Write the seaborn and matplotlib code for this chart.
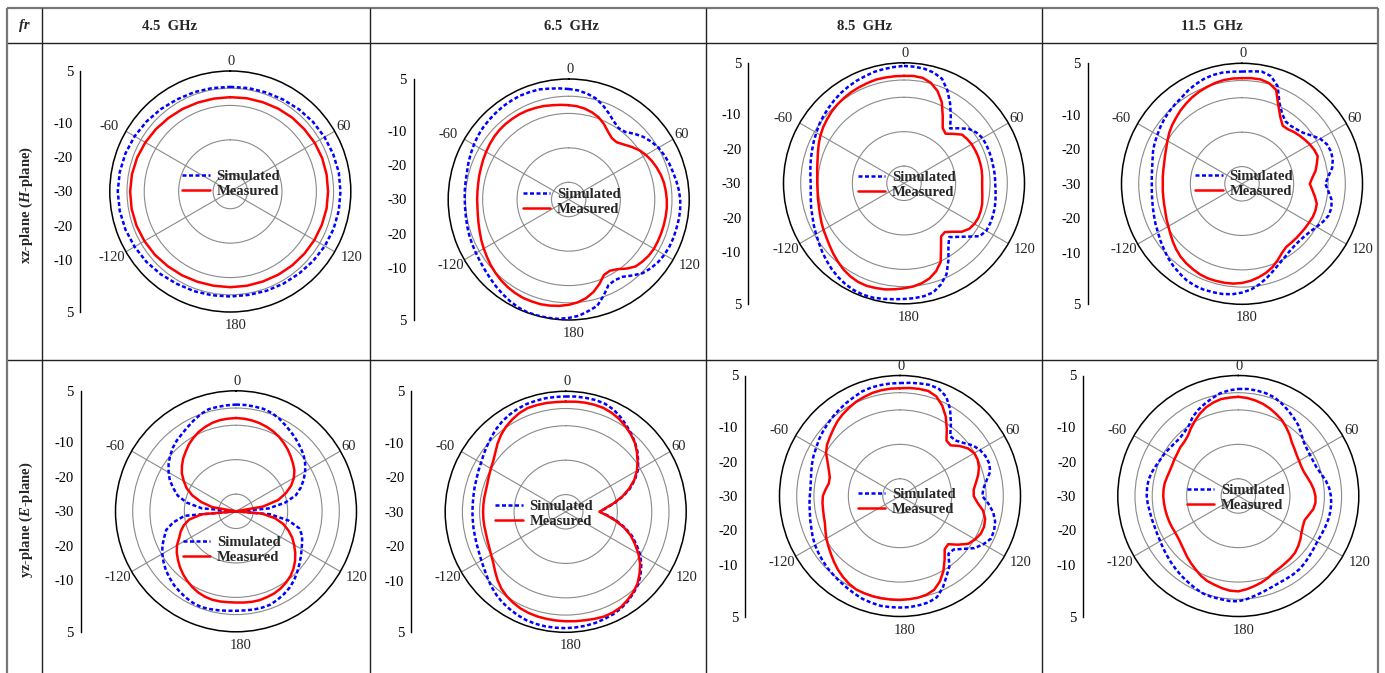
import numpy as np
import pandas as pd
import matplotlib
matplotlib.use("Agg")
import matplotlib.pyplot as plt
import seaborn as sns

# ---------------------------------------------------------------- data
# angles are measured clockwise from broadside (0 at top)
ANGLES_COARSE = list(range(0, 360, 10))
ANGLES_FINE = list(range(0, 360, 5))
FREQS = ["4.5  GHz", "6.5  GHz", "8.5  GHz", "11.5  GHz"]
PLANES = [r"xz-plane ($\mathit{H}$-plane)", r"yz-plane ($\mathit{E}$-plane)"]
SERIES = ["Simulated", "Measured"]

THETA_TICKS = list(range(0, 360, 30))
THETA_LABELS = ["0", "60", "120", "180", "-120", "-60"]
SPOKES = [60, 120, 240, 300]
R_GRID = [-25, -15, -5, 0]
R_MIN, R_MAX = -30, 5
SCALE_POS = [35, 20, 10, 0, -10, -20, -35]
SCALE_LABELS = ["5", "-10", "-20", "-30", "-20", "-10", "5"]

# normalised gain (dB), xz-plane
SIM_XZ_45 = [0.4, 0.5, 0.6, 0.8, 1.1, 1.4, 1.6, 1.8, 2.0, 2.0, 2.0, 1.9, 1.7, 1.4, 1.1, 0.9, 0.7, 0.5,
             0.5, 0.6, 0.8, 1.0, 1.4, 1.8, 2.1, 2.4, 2.6, 2.7, 2.6, 2.4, 2.1, 1.7, 1.3, 0.9, 0.7, 0.5]
MEAS_XZ_45 = [-2.6, -2.5, -2.4, -2.2, -2.0, -1.9, -1.7, -1.6, -1.6, -1.6, -1.6, -1.7, -1.8, -1.9, -2.0, -2.1, -2.2, -2.2,
              -2.2, -2.2, -2.1, -1.9, -1.7, -1.4, -1.2, -1.0, -0.9, -0.9, -1.0, -1.2, -1.5, -1.8, -2.1, -2.3, -2.5, -2.6]

SIM_XZ_65 = [2.1, 1.8, 1.2, 0.4, -0.9, -2.4, -3.8, -4.7, -4.4, -3.0, -1.7, -0.7,
             0.1, 0.6, 1.0, 1.3, 1.7, 2.1, 2.4, 2.5, 2.5, 2.4, 2.4, 2.3,
             2.1, 1.7, 1.1, 0.3, -1.2, -2.6, -3.0, -2.6, -0.3, 2.0, 2.9, 3.9,
             4.4, 4.8, 4.9, 4.9, 4.9, 4.6, 4.1, 3.5, 2.9, 2.3, 1.8, 1.4,
             1.1, 0.9, 0.7, 0.5, 0.3, 0.2, 0.2, 0.3, 0.4, 0.6, 1.0, 1.4,
             1.8, 2.2, 2.5, 2.7, 2.9, 3.1, 3.2, 3.3, 3.2, 3.1, 2.7, 2.4]
MEAS_XZ_65 = [-2.6, -2.8, -3.2, -3.8, -4.6, -5.8, -7.2, -8.2, -8.3, -7.4, -6.2, -5.0,
              -4.1, -3.4, -2.8, -2.3, -1.9, -1.7, -1.5, -1.4, -1.4, -1.4, -1.4, -1.4,
              -1.4, -1.6, -2.0, -2.5, -3.8, -5.3, -6.1, -5.8, -3.9, -2.2, -0.9, 0.0,
              0.6, 1.0, 1.3, 1.5, 1.5, 1.5, 1.3, 1.0, 0.6, 0.1, -0.4, -1.0,
              -1.5, -2.0, -2.5, -2.9, -3.2, -3.4, -3.4, -3.4, -3.3, -3.1, -2.9, -2.6,
              -2.3, -2.0, -1.7, -1.5, -1.4, -1.4, -1.4, -1.5, -1.7, -1.9, -2.2, -2.4]

SIM_XZ_85 = [4.1, 4.0, 3.8, 3.3, 2.3, -0.2, -3.2, -6.3, -9.2, -7.4, -5.4, -4.3,
             -3.7, -3.6, -3.6, -3.6, -3.6, -3.5, -3.5, -3.3, -3.0, -2.7, -2.5, -2.4,
             -2.4, -3.2, -5.9, -8.0, -9.6, -7.5, -4.2, -0.8, 1.3, 2.8, 3.3, 3.5,
             3.6, 3.8, 4.1, 4.4, 4.5, 4.3, 3.9, 3.3, 2.6, 1.8, 1.0, 0.2,
             -0.5, -1.1, -1.7, -2.1, -2.5, -2.8, -2.9, -2.7, -2.4, -2.0, -1.6, -1.1,
             -0.6, 0.0, 0.5, 1.0, 1.5, 2.0, 2.4, 2.8, 3.1, 3.5, 3.7, 3.9]
MEAS_XZ_85 = [1.2, 1.3, 1.1, 0.2, -1.5, -4.0, -7.5, -10.4, -11.2, -9.7, -8.0, -7.6,
              -7.3, -7.2, -7.1, -7.1, -7.1, -7.2, -7.3, -7.2, -6.9, -6.5, -6.3, -6.2,
              -6.4, -6.9, -8.1, -10.1, -11.5, -11.2, -8.5, -4.8, -2.8, -1.4, -0.5, 0.1,
              0.5, 0.9, 1.3, 1.5, 1.7, 1.6, 1.2, 0.6, -0.2, -1.0, -1.8, -2.5,
              -3.0, -3.5, -4.0, -4.4, -4.6, -4.8, -4.8, -4.7, -4.4, -4.0, -3.4, -2.7,
              -2.0, -1.4, -0.9, -0.4, 0.0, 0.3, 0.6, 0.8, 1.0, 1.2, 1.2, 1.2]

SIM_XZ_115 = [2.6, 2.8, 3.1, 2.4, 0.2, -4.2, -6.6, -7.9, -8.0, -7.6, -6.9, -5.5,
              -3.8, -2.8, -2.5, -2.7, -3.4, -4.8, -5.8, -4.8, -3.6, -3.1, -3.2, -4.0,
              -5.0, -5.8, -6.3, -6.5, -6.4, -6.0, -5.3, -4.4, -3.2, -1.8, -0.4, 0.8,
              1.6, 2.2, 2.5, 2.6, 2.7, 2.6, 2.3, 1.7, 1.1, 0.4, -0.4, -1.1,
              -1.8, -2.3, -2.8, -3.2, -3.5, -3.7, -3.8, -3.7, -3.5, -3.1, -2.5, -2.0,
              -1.6, -1.1, -0.6, -0.2, 0.2, 0.6, 1.3, 1.9, 2.4, 2.7, 2.8, 2.7]
MEAS_XZ_115 = [0.7, 0.8, 0.8, 0.3, -1.0, -5.0, -7.7, -9.4, -9.3, -8.7, -8.2, -7.7,
               -7.2, -6.8, -6.6, -7.5, -8.3, -9.5, -10.3, -9.5, -8.5, -7.5, -7.3, -7.3,
               -7.5, -7.6, -7.7, -7.7, -7.7, -7.6, -6.8, -5.5, -4.2, -3.2, -2.4, -1.7,
               -1.2, -0.9, -0.8, -0.8, -0.8, -1.0, -1.4, -1.8, -2.3, -3.0, -3.8, -4.6,
               -5.3, -5.8, -6.3, -6.6, -6.8, -6.9, -7.0, -6.9, -6.8, -6.6, -6.2, -5.7,
               -5.0, -4.2, -3.5, -2.9, -2.2, -1.6, -1.0, -0.5, -0.1, 0.3, 0.6, 0.7]

# normalised gain (dB), yz-plane; -30 marks the pattern nulls at the floor of the scale
SIM_YZ_45 = [1.0, 1.0, 0.9, 0.8, 0.4, -0.3, -1.2, -2.0, -2.8, -3.6, -4.4, -5.5,
             -6.8, -8.3, -10.0, -12.0, -15.5, -20.5, -30.0, -20.0, -14.5, -11.0, -9.6, -8.8,
             -8.0, -7.0, -6.0, -4.9, -3.8, -2.9, -2.2, -1.6, -1.1, -1.0, -1.0, -1.1,
             -1.1, -1.0, -0.8, -0.6, -0.4, -0.6, -1.0, -1.5, -2.0, -2.7, -3.4, -4.3,
             -5.3, -6.4, -7.8, -9.0, -11.5, -15.0, -30.0, -20.0, -15.5, -12.5, -10.7, -8.8,
             -7.4, -6.1, -5.0, -4.0, -3.2, -2.6, -1.8, -0.9, 0.0, 0.7, 0.8, 0.9]
MEAS_YZ_45 = [-2.9, -3.0, -3.2, -3.5, -3.9, -4.4, -5.0, -5.8, -6.6, -7.5, -8.4, -9.3,
              -10.6, -12.3, -14.6, -17.3, -22.0, -30.0, -30.0, -22.5, -18.5, -15.8, -13.8, -12.0,
              -10.5, -9.0, -7.6, -6.4, -5.4, -4.7, -4.1, -3.7, -3.5, -3.3, -3.3, -3.4,
              -3.5, -3.5, -3.4, -3.4, -3.6, -4.0, -4.6, -5.3, -6.1, -7.0, -8.0, -9.0,
              -10.2, -11.8, -12.9, -14.3, -16.2, -20.0, -30.0, -30.0, -23.0, -19.5, -16.5, -14.2,
              -12.5, -10.8, -9.5, -8.3, -7.3, -6.2, -5.3, -4.5, -3.9, -3.4, -3.1, -3.0]

SIM_YZ_65 = [3.5, 3.6, 3.6, 3.6, 3.4, 2.8, 1.8, 0.7, -0.4, -1.5, -2.8, -4.3,
             -5.8, -7.8, -10.1, -12.8, -15.7, -18.3, -20.0, -17.8, -15.0, -12.2, -9.5, -7.3,
             -5.0, -3.2, -1.6, -0.2, 0.7, 1.6, 2.3, 2.8, 3.1, 3.4, 3.6, 3.7,
             3.8, 3.8, 3.8, 3.7, 3.5, 3.1, 2.6, 2.1, 1.4, 0.6, -0.3, -1.1,
             -1.7, -2.2, -2.5, -2.7, -2.8, -2.9, -2.9, -2.9, -2.8, -2.6, -2.4, -2.0,
             -1.6, -0.9, -0.2, 0.6, 1.4, 2.1, 2.6, 3.0, 3.3, 3.4, 3.5, 3.5]
MEAS_YZ_65 = [2.0, 2.1, 2.2, 2.2, 2.1, 1.7, 1.1, 0.3, -0.6, -1.6, -3.0, -4.5,
              -6.1, -8.0, -10.4, -13.0, -15.9, -18.5, -20.2, -18.0, -15.3, -12.5, -9.9, -7.8,
              -5.6, -3.6, -2.0, -0.5, 0.5, 1.3, 2.0, 2.3, 2.4, 2.2, 2.0, 1.9,
              1.8, 1.7, 1.6, 1.5, 1.3, 1.0, 0.5, -0.1, -0.9, -2.0, -3.2, -4.3,
              -5.0, -5.5, -5.8, -6.0, -6.0, -6.0, -6.0, -6.0, -6.0, -6.0, -5.8, -5.4,
              -4.9, -4.3, -3.3, -2.0, -0.8, 0.2, 1.0, 1.7, 2.1, 2.1, 2.1, 2.0]

SIM_YZ_85 = [2.8, 3.0, 3.2, 3.4, 3.1, 1.8, -0.9, -4.2, -7.3, -7.2, -6.0, -4.3,
             -3.2, -2.6, -2.4, -2.9, -4.5, -5.7, -6.1, -4.2, -2.5, -1.4, -0.9, -0.8,
             -2.0, -3.6, -6.1, -8.0, -8.1, -5.0, -3.0, -0.6, 1.3, 2.0, 2.2, 2.4,
             2.4, 2.4, 2.4, 2.1, 1.8, 1.3, 0.8, 0.4, 0.0, -0.3, -0.7, -1.1,
             -1.5, -2.0, -2.6, -3.0, -3.4, -3.6, -3.8, -3.9, -3.7, -3.3, -2.8, -2.3,
             -1.9, -1.3, -0.8, -0.3, 0.2, 0.7, 1.2, 1.7, 2.3, 2.6, 2.7, 2.8]
MEAS_YZ_85 = [1.3, 1.5, 1.6, 1.6, 0.8, -1.0, -3.4, -6.3, -9.0, -9.2, -7.4, -5.9,
              -5.1, -5.1, -5.6, -6.5, -7.6, -8.5, -8.6, -7.4, -5.5, -4.4, -4.0, -4.1,
              -4.8, -5.8, -8.0, -10.2, -9.8, -7.4, -4.8, -2.6, -1.0, -0.3, 0.0, 0.1,
              0.2, 0.2, 0.2, 0.2, 0.1, 0.0, -0.5, -1.2, -2.0, -2.9, -3.8, -4.6,
              -5.3, -6.1, -6.8, -7.1, -7.3, -7.4, -7.6, -8.3, -9.0, -8.9, -8.0, -6.8,
              -5.2, -4.1, -3.4, -2.6, -1.7, -1.0, -0.4, 0.2, 0.6, 1.0, 1.2, 1.3]

SIM_YZ_115 = [1.1, 1.2, 1.1, 0.9, 0.5, -0.3, -1.2, -2.1, -3.0, -4.2, -5.3, -5.8,
              -6.0, -6.0, -5.8, -5.1, -4.2, -3.5, -3.1, -2.9, -2.9, -3.0, -3.2, -3.4,
              -3.5, -3.3, -3.0, -2.6, -2.3, -2.2, -2.2, -2.1, -1.8, -1.3, -0.7, 0.0,
              0.6, 0.6, 0.4, 0.3, 0.1, -0.4, -1.0, -1.5, -2.0, -2.5, -3.0, -3.4,
              -3.8, -4.0, -4.1, -4.0, -3.9, -3.6, -3.4, -3.4, -3.5, -3.9, -4.5, -5.0,
              -5.3, -5.7, -6.0, -6.1, -5.7, -5.0, -3.5, -2.4, -1.5, -0.6, 0.3, 0.8]
MEAS_YZ_115 = [-1.2, -1.4, -1.8, -2.3, -3.0, -3.8, -4.6, -5.7, -6.8, -8.0, -8.7, -9.3,
               -9.6, -9.8, -9.7, -9.2, -8.6, -8.0, -7.6, -7.5, -7.9, -8.8, -9.5, -9.3,
               -8.8, -8.0, -7.3, -6.7, -6.4, -6.2, -5.9, -5.5, -4.7, -4.0, -3.4, -2.8,
               -2.3, -2.4, -2.8, -3.3, -3.7, -4.4, -5.3, -6.1, -6.9, -7.7, -8.3, -8.7,
               -8.8, -8.7, -8.6, -8.5, -8.4, -8.3, -8.2, -8.2, -8.3, -8.6, -8.8, -8.8,
               -8.6, -8.4, -8.0, -7.8, -7.2, -6.0, -4.8, -3.6, -2.6, -1.9, -1.4, -1.3]

PATTERNS = [
    [(ANGLES_COARSE, SIM_XZ_45, MEAS_XZ_45), (ANGLES_FINE, SIM_XZ_65, MEAS_XZ_65),
     (ANGLES_FINE, SIM_XZ_85, MEAS_XZ_85), (ANGLES_FINE, SIM_XZ_115, MEAS_XZ_115)],
    [(ANGLES_FINE, SIM_YZ_45, MEAS_YZ_45), (ANGLES_FINE, SIM_YZ_65, MEAS_YZ_65),
     (ANGLES_FINE, SIM_YZ_85, MEAS_YZ_85), (ANGLES_FINE, SIM_YZ_115, MEAS_YZ_115)],
]

# ---------------------------------------------------------------- layout (pixels)
W, H = 1385, 673
RADIUS = 120.5
CENTERS = [[(230.3, 191.5), (568.7, 199.5), (904.0, 183.3), (1242.0, 183.8)],
           [(236.0, 511.3), (565.7, 511.8), (900.0, 496.0), (1238.3, 496.0)]]
SCALE_X = [[80.0, 413.7, 748.3, 1087.7], [80.7, 411.3, 745.0, 1083.3]]
LEGEND_AT = [[(182.0, 184.0), (522.7, 201.7), (857.7, 184.7), (1195.0, 184.2)],
             [(182.7, 550.0), (495.0, 513.7), (857.7, 501.9), (1186.7, 498.0)]]
# angle-label centres relative to the pattern centre (px, y up)
THETA_LABEL_OFFSETS = [(1, 130), (113, 65), (121, -66), (5, -134), (-118, -66), (-121, 65)]
HEADER_X = [170, 572, 865, 1212]
COL_LINES = [7, 42, 370, 706, 1042, 1378]
ROW_LINES = [8, 43, 360]

PALETTE = {"Simulated": "#0000ff", "Measured": "#ff0000"}
DASHES = {"Simulated": (1.6, 1.0), "Measured": ""}
FS = 10.5

sns.set_style("white")
plt.rcParams["font.family"] = ["Liberation Serif", "DejaVu Serif"]
plt.rcParams["mathtext.fontset"] = "custom"
plt.rcParams["mathtext.it"] = "Liberation Serif:italic:bold"
plt.rcParams["mathtext.rm"] = "Liberation Serif:bold"
plt.rcParams["mathtext.bf"] = "Liberation Serif:bold"

fig = plt.figure(figsize=(W / 100, H / 100), dpi=100)

# table frame and headings
tab = fig.add_axes([0, 0, 1, 1], zorder=-5)
tab.set_xlim(0, W)
tab.set_ylim(H, 0)
tab.axis("off")
for y in ROW_LINES:
    top = y == ROW_LINES[0]
    tab.plot([COL_LINES[0], COL_LINES[-1]], [y, y], color="#777777" if top else "#222222",
             lw=1.6 if top else 1.0, solid_capstyle="butt")
for i, x in enumerate(COL_LINES):
    outer = i in (0, len(COL_LINES) - 1)
    tab.plot([x, x], [ROW_LINES[0], H], color="#777777" if outer else "#222222",
             lw=1.6 if outer else 1.0, solid_capstyle="butt")
tab.text(24.5, 26, "fr", fontsize=FS, fontweight="bold", fontstyle="italic", ha="center", va="center")
for x, label in zip(HEADER_X, FREQS):
    tab.text(x, 26, label, fontsize=FS, fontweight="bold", ha="center", va="center")
for y, label in zip([205, 520], PLANES):
    tab.text(26, y, label, fontsize=FS, fontweight="bold", rotation=90, ha="center", va="center")

for r, row in enumerate(PATTERNS):
    for c, (angles, sim, meas) in enumerate(row):
        assert len(sim) == len(angles) and len(meas) == len(angles)
        cx, cy = CENTERS[r][c]
        ax = fig.add_axes([(cx - RADIUS) / W, (H - cy - RADIUS) / H, 2 * RADIUS / W, 2 * RADIUS / H],
                          projection="polar")
        ax.set_theta_zero_location("N")
        ax.set_theta_direction(-1)

        theta_closed = np.deg2rad(list(angles) + [360])
        n = len(theta_closed)
        df = pd.DataFrame({
            "theta": np.concatenate([theta_closed, theta_closed]),
            "gain": list(sim) + [sim[0]] + list(meas) + [meas[0]],
            "series": [SERIES[0]] * n + [SERIES[1]] * n,
        })
        sns.lineplot(data=df, x="theta", y="gain", hue="series", style="series",
                     hue_order=SERIES, style_order=SERIES, palette=PALETTE, dashes=DASHES,
                     sort=False, estimator=None, linewidth=1.8, ax=ax, zorder=3)
        ax.set_xlabel("")
        ax.set_ylabel("")
        ax.set_rlim(R_MIN, R_MAX)
        ax.set_yticks(R_GRID)
        ax.set_yticklabels([])
        ax.yaxis.grid(True, color="#8a8a8a", lw=0.8)
        ax.xaxis.grid(False)
        ax.set_xticks(np.deg2rad(THETA_TICKS))
        ax.set_xticklabels([])
        ax.tick_params(axis="x", direction="in", length=4, width=0.8, colors="black")
        for label, (dx, dy) in zip(THETA_LABELS, THETA_LABEL_OFFSETS):
            ax.annotate(label, xy=(0, R_MIN), xycoords="data", xytext=(dx, dy),
                        textcoords="offset pixels", ha="center", va="center",
                        fontsize=FS, annotation_clip=False)
        for a in SPOKES:
            ax.axvline(np.deg2rad(a), color="#8a8a8a", lw=0.8, zorder=1)
        ax.spines["polar"].set_color("black")
        ax.spines["polar"].set_linewidth(1.1)

        lx, ly = LEGEND_AT[r][c]
        sns.move_legend(ax, "center left", bbox_to_anchor=(lx / W, 1 - ly / H),
                        bbox_transform=fig.transFigure, frameon=False, title=None,
                        prop={"weight": "bold", "size": FS}, handlelength=1.9,
                        handletextpad=0.45, labelspacing=0.1, borderpad=0, borderaxespad=0)

        # linear dB scale beside each pattern
        sx = SCALE_X[r][c]
        sa = fig.add_axes([sx / W, (H - cy - RADIUS) / H, 0.0005, 2 * RADIUS / H])
        sa.set_ylim(-35, 35)
        sa.set_yticks(SCALE_POS)
        sa.set_yticklabels(SCALE_LABELS)
        sa.set_xticks([])
        for s in ["top", "right", "bottom"]:
            sa.spines[s].set_visible(False)
        sa.spines["left"].set_color("black")
        sa.spines["left"].set_linewidth(1.0)
        sa.tick_params(axis="y", direction="out", length=4, width=1.0, pad=1, labelsize=FS, colors="black")
        sa.patch.set_alpha(0)

fig.savefig("out.png", dpi=100)
